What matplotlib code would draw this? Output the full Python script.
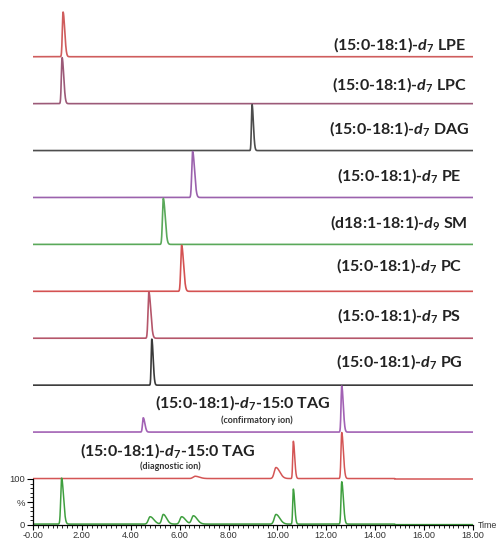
import numpy as np
import matplotlib
matplotlib.use("Agg")
import matplotlib.pyplot as plt
from matplotlib.ticker import MultipleLocator, FixedLocator

plt.rcParams["mathtext.fontset"] = "custom"
plt.rcParams["mathtext.rm"] = "Lato:bold"
plt.rcParams["mathtext.it"] = "Lato:bold:italic"
plt.rcParams["mathtext.bf"] = "Lato:bold"

# ---- chromatogram data: (retention time [min], relative intensity [%], peak sigma [min]) ----
lpe_peaks = [(1.23, 97, 0.030)]
lpc_peaks = [(1.19, 100, 0.030)]
dag_peaks = [(8.96, 100, 0.025)]
pe_peaks = [(6.53, 100, 0.035)]
sm_peaks = [(5.33, 100, 0.035)]
pc_peaks = [(6.08, 100, 0.035)]
ps_peaks = [(4.74, 100, 0.035)]
pg_peaks = [(4.86, 100, 0.025)]
tag_conf_peaks = [(4.51, 31, 0.030), (12.63, 100, 0.028)]
tag_diag_peaks = [(6.63, 5, 0.080), (9.94, 24, 0.070), (10.65, 81, 0.025), (12.63, 100, 0.030)]
tic_peaks = [(1.17, 100, 0.035), (4.79, 16, 0.070), (5.33, 21, 0.060), (6.08, 16, 0.070),
             (6.56, 18, 0.070), (9.94, 21, 0.070), (10.65, 76, 0.025), (12.63, 92, 0.030)]
tic_baseline = [(0.0, 2.0), (14.8, 0.8)]          # (start time, level %)
diag_baseline = [(0.0, 1.0), (14.8, 0.0)]

trace_labels = [
    "(15:0-18:1)-$d_7$ LPE",
    "(15:0-18:1)-$d_7$ LPC",
    "(15:0-18:1)-$d_7$ DAG",
    "(15:0-18:1)-$d_7$ PE",
    "(d18:1-18:1)-$d_9$ SM",
    "(15:0-18:1)-$d_7$ PC",
    "(15:0-18:1)-$d_7$ PS",
    "(15:0-18:1)-$d_7$ PG",
]
tag_label = "(15:0-18:1)-$d_7$-15:0 TAG"
conf_note = "(confirmatory ion)"
diag_note = "(diagnostic ion)"

x_ticks = [0, 2, 4, 6, 8, 10, 12, 14, 16, 18]
x_ticklabels = ["-0.00", "2.00", "4.00", "6.00", "8.00", "10.00", "12.00", "14.00", "16.00", "18.00"]
y_ticks = [0, 50, 100]
y_ticklabels = ["0", "%", "100"]

# ---- styling ----
stack = [
    (lpe_peaks, "#cf5d5d"),
    (lpc_peaks, "#9c5a78"),
    (dag_peaks, "#4d4d4d"),
    (pe_peaks, "#9b62ad"),
    (sm_peaks, "#5aa95a"),
    (pc_peaks, "#d45252"),
    (ps_peaks, "#b5566a"),
    (pg_peaks, "#3a3a3a"),
]
label_dy = [26, 42, 48, 48, 48, 55, 50, 52]

t = np.linspace(0, 18, 3601)


def trace(peaks, tail=2.2):
    y = np.zeros_like(t)
    for rt, h, s in peaks:
        sig = np.where(t < rt, s, s * tail)
        y += h * np.exp(-0.5 * ((t - rt) / sig) ** 2)
    return y


def baseline(steps):
    y = np.zeros_like(t)
    for start, level in steps:
        y[t >= start] = level
    return y


def tx(px):
    """Horizontal pixel position -> retention time on the shared axis."""
    return (px - 33) / 440 * 18


fig = plt.figure(figsize=(5.0, 5.41), dpi=100)
H = 541.0
px_per_unit = 0.46
bottom_px = 525.0
ax = fig.add_axes([33 / 500, (H - bottom_px) / H, 440 / 500, bottom_px / H])
ax.set_xlim(0, 18)
ax.set_ylim(0, bottom_px / px_per_unit)

label_kw = dict(ha="center", va="center", fontsize=11.5, color="#222222",
                family="Lato", fontweight="bold")
note_kw = dict(ha="center", va="center", fontsize=6.5, color="#333333",
               family="Lato", fontweight="bold")

spacing = 102
diag_off = 100
conf_off = diag_off + spacing
n = len(stack)
for i, (peaks, color) in enumerate(stack):
    off = diag_off + spacing * (n + 1 - i)
    ax.plot(t, off + trace(peaks), color=color, lw=1.2)
    ax.text(tx(399), off + label_dy[i], trace_labels[i], **label_kw)

# confirmatory ion trace
ax.plot(t, conf_off + trace(tag_conf_peaks), color="#a262b4", lw=1.2)
ax.text(tx(243), conf_off + 65, tag_label, **label_kw)
ax.text(tx(257), conf_off + 26, conf_note, **note_kw)

# diagnostic ion trace
ax.plot(t, diag_off + baseline(diag_baseline) + trace(tag_diag_peaks), color="#d45555", lw=1.1)
ax.text(tx(168), diag_off + 61, tag_label, **label_kw)
ax.text(tx(170), diag_off + 28, diag_note, **note_kw)

# total ion trace on the scaled axis
ax.plot(t, baseline(tic_baseline) + trace(tic_peaks), color="#3f9f3f", lw=1.1)

for side in ("top", "right"):
    ax.spines[side].set_visible(False)
ax.spines["left"].set_bounds(0, 100)
ax.spines["left"].set_linewidth(0.9)
ax.spines["bottom"].set_linewidth(0.9)

ax.xaxis.set_major_locator(FixedLocator(x_ticks))
ax.set_xticklabels(x_ticklabels)
ax.xaxis.set_minor_locator(MultipleLocator(0.2))
ax.yaxis.set_major_locator(FixedLocator(y_ticks))
ax.set_yticklabels(y_ticklabels)
ax.yaxis.set_minor_locator(FixedLocator(list(range(10, 100, 10))))
ax.tick_params(axis="x", which="major", length=3.5, width=0.8, labelsize=6.6,
               labelcolor="#333333", pad=0.8)
ax.tick_params(axis="y", which="major", length=4, width=0.8, labelsize=6.8,
               labelcolor="#333333", pad=1.5)
ax.tick_params(axis="both", which="minor", length=2, width=0.6)
for lab in ax.get_xticklabels() + ax.get_yticklabels():
    lab.set_family("Liberation Sans")

fig.text(478 / 500, (H - 526) / H, "Time", fontsize=6.4, color="#333333",
         family="Liberation Sans", va="center", ha="left")

fig.savefig("out.png", dpi=100)
